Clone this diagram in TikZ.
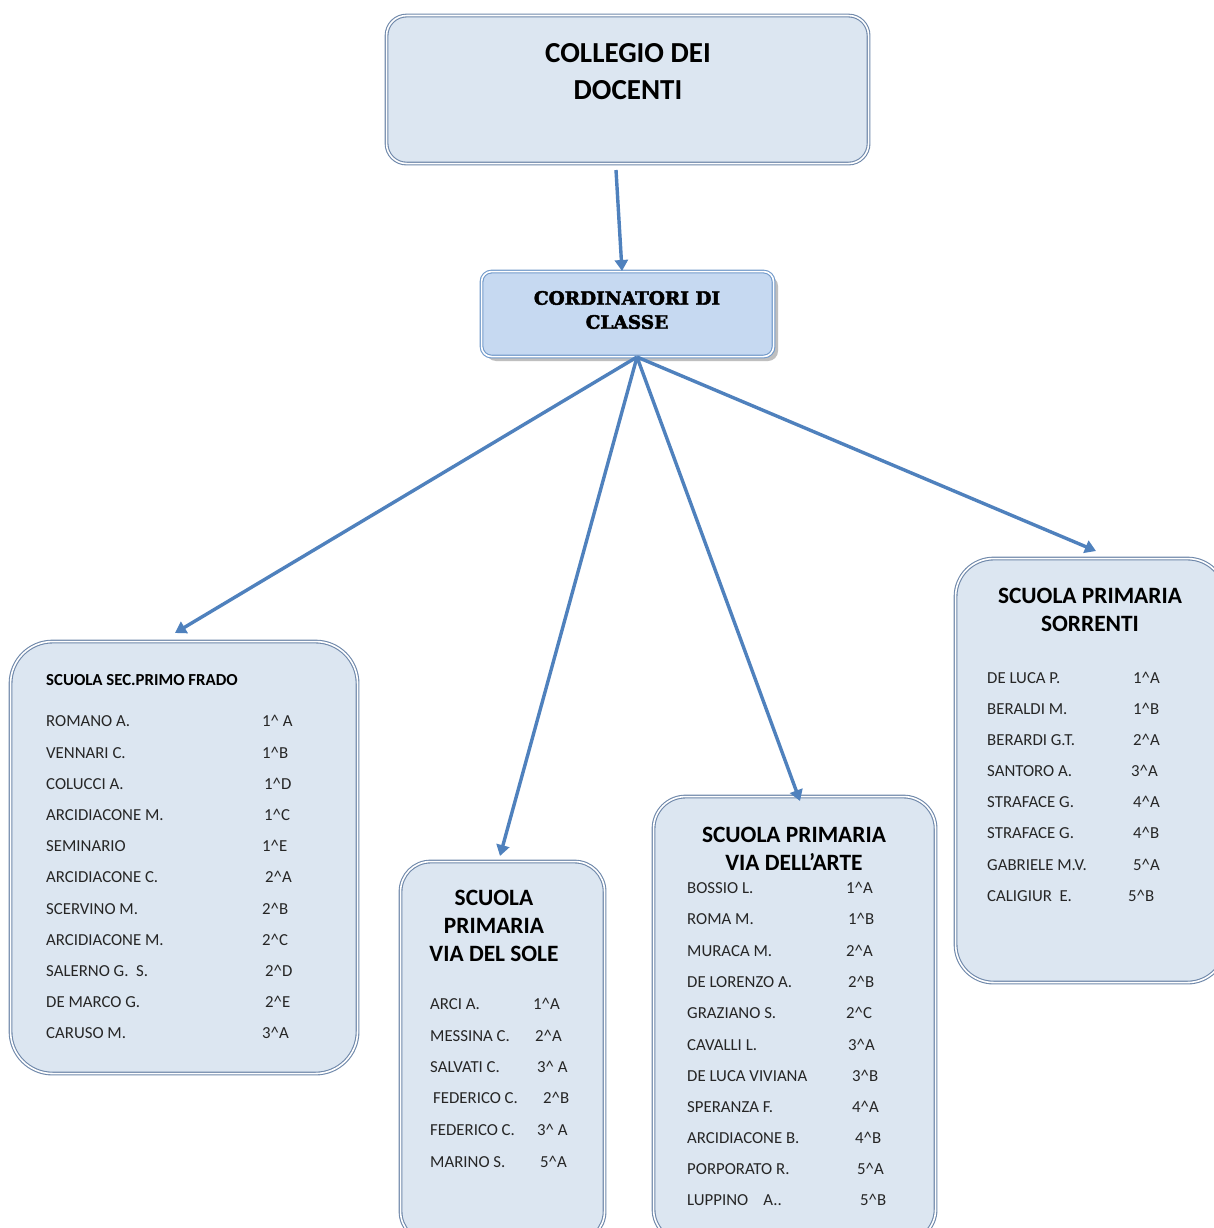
\documentclass[tikz,border=0pt]{standalone}
\usepackage{fontspec}
\setmainfont{Carlito}
\newfontfamily\slabfont[UprightFont={* Bold}, FakeBold=2.5]{DejaVu Serif}
\usetikzlibrary{arrows.meta}
\newcommand\crt{\textasciicircum}
\definecolor{boxfill}{HTML}{DCE6F1}
\definecolor{cordfill}{HTML}{C6D9F1}
\definecolor{boxline}{HTML}{6F88AA}
\definecolor{arrowcol}{HTML}{4F81BD}
\tikzset{
  panel/.style={draw=boxline, double=white, double distance=1.6pt, line width=1.1pt,
    fill=boxfill, inner sep=0pt, anchor=north west},
  link/.style={draw=arrowcol, line width=3.4pt, -{Triangle[length=11pt,width=13pt]}},
  entry/.style={anchor=base west, inner sep=0pt, font=\fontsize{16.8}{20}\selectfont, text=black!85},
  head/.style={anchor=center, inner sep=0pt, align=center, font=\bfseries\fontsize{23.4}{28}\selectfont},
}
\begin{document}
\begin{tikzpicture}[x=1pt,y=-1pt]
\useasboundingbox (0,0) rectangle (1214,1228);
\clip (0,0) rectangle (1214,1228);
\fill[white] (0,0) rectangle (1214,1228);

% top box
\node[panel, rounded corners=20pt, minimum width=482pt, minimum height=148pt] (coll) at (386,15) {};
\node[anchor=center, inner sep=0pt, align=center, font=\bfseries\fontsize{29}{37}\selectfont] (collt) at (628,72) {COLLEGIO DEI\\DOCENTI};

% coordinatori
\fill[black!25, rounded corners=10pt] (486,276) rectangle (778,361);
\node[panel, fill=cordfill, draw=arrowcol!80, rounded corners=10pt, minimum width=292pt, minimum height=85pt] (cord) at (481,271) {};
\node[anchor=center, inner sep=0pt, align=center, font=\slabfont\fontsize{18.5}{24}\selectfont] (cordt) at (627,310) {CORDINATORI DI\\CLASSE};

% school boxes
\node[panel, rounded corners=42pt, minimum width=347pt, minimum height=432pt] (sec) at (10,641) {};
\node[panel, rounded corners=30pt, minimum width=204pt, minimum height=380pt] (sole) at (400,861) {};
\node[panel, rounded corners=32pt, minimum width=282pt, minimum height=445pt] (arte) at (653,796) {};
\node[panel, rounded corners=38pt, minimum width=270pt, minimum height=424pt] (sorr) at (955,558) {};

% connectors
\coordinate (c1s) at (616,170);
\coordinate (c1e) at (622,271);
\coordinate (hub) at (637,357);
\coordinate (e1) at (175,633);
\coordinate (e2) at (500,856);
\coordinate (e3) at (800,801);
\coordinate (e4) at (1096,551);
\draw[link] (c1s) -- (c1e);
\draw[link] (hub) -- (e1);
\draw[link] (hub) -- (e2);
\draw[link] (hub) -- (e3);
\draw[link] (hub) -- (e4);

% left box
\node[anchor=base west, inner sep=0pt, font=\bfseries\fontsize{16.8}{20}\selectfont] (sect) at (46,685) {SCUOLA SEC.PRIMO FRADO};
\foreach \nm/\cd/\cx/\yy [count=\i] in {
  ROMANO A./1\crt{} A/262/726,
  VENNARI C./1\crt B/262/758,
  COLUCCI A./1\crt D/264/789,
  ARCIDIACONE M./1\crt C/264/820,
  SEMINARIO/1\crt E/262/851,
  ARCIDIACONE C./2\crt A/265/882,
  SCERVINO M./2\crt B/262/914,
  ARCIDIACONE M./2\crt C/262/945,
  SALERNO G.~~S./2\crt D/265/976,
  DE MARCO G./2\crt E/265/1007,
  CARUSO M./3\crt A/262/1038}{
  \node[entry] (sn\i) at (46,\yy) {\nm};
  \node[entry] (sc\i) at (\cx,\yy) {\cd};
}

% via del sole
\node[head] (solet) at (494,926) {SCUOLA\\PRIMARIA\\VIA DEL SOLE};
\foreach \nm/\cd/\nx/\cx/\yy [count=\i] in {
  ARCI A./1\crt A/430/533/1009,
  MESSINA C./2\crt A/430/535/1041,
  SALVATI C./3\crt{} A/430/537/1072,
  FEDERICO C./2\crt B/433/543/1103,
  FEDERICO C./3\crt{} A/430/537/1135,
  MARINO S./5\crt A/430/540/1167}{
  \node[entry] (vn\i) at (\nx,\yy) {\nm};
  \node[entry] (vc\i) at (\cx,\yy) {\cd};
}

% via dell'arte
\node[head] (artet) at (794,849) {SCUOLA PRIMARIA\\VIA DELL’ARTE};
\foreach \nm/\cd/\cx/\yy [count=\i] in {
  BOSSIO L./1\crt A/846/893,
  ROMA M./1\crt B/848/924,
  MURACA M./2\crt A/846/956,
  DE LORENZO A./2\crt B/848/987,
  GRAZIANO S./2\crt C/846/1018,
  CAVALLI L./3\crt A/848/1050,
  DE LUCA VIVIANA/3\crt B/852/1081,
  SPERANZA F./4\crt A/852/1112,
  ARCIDIACONE B./4\crt B/855/1143,
  PORPORATO R./5\crt A/857/1174,
  LUPPINO~~~~A../5\crt B/860/1205}{
  \node[entry] (an\i) at (687,\yy) {\nm};
  \node[entry] (ac\i) at (\cx,\yy) {\cd};
}

% sorrenti
\node[head] (sorrt) at (1090,610) {SCUOLA PRIMARIA\\SORRENTI};
\foreach \nm/\cd/\cx/\yy [count=\i] in {
  DE LUCA P./1\crt A/1133/683,
  BERALDI M./1\crt B/1133/714,
  BERARDI G.T./2\crt A/1133/745,
  SANTORO A./3\crt A/1131/776,
  STRAFACE G./4\crt A/1133/807,
  STRAFACE G./4\crt B/1133/838,
  GABRIELE M.V./5\crt A/1133/870,
  CALIGIUR~~E./5\crt B/1128/901}{
  \node[entry] (rn\i) at (987,\yy) {\nm};
  \node[entry] (rc\i) at (\cx,\yy) {\cd};
}
\end{tikzpicture}
\end{document}
